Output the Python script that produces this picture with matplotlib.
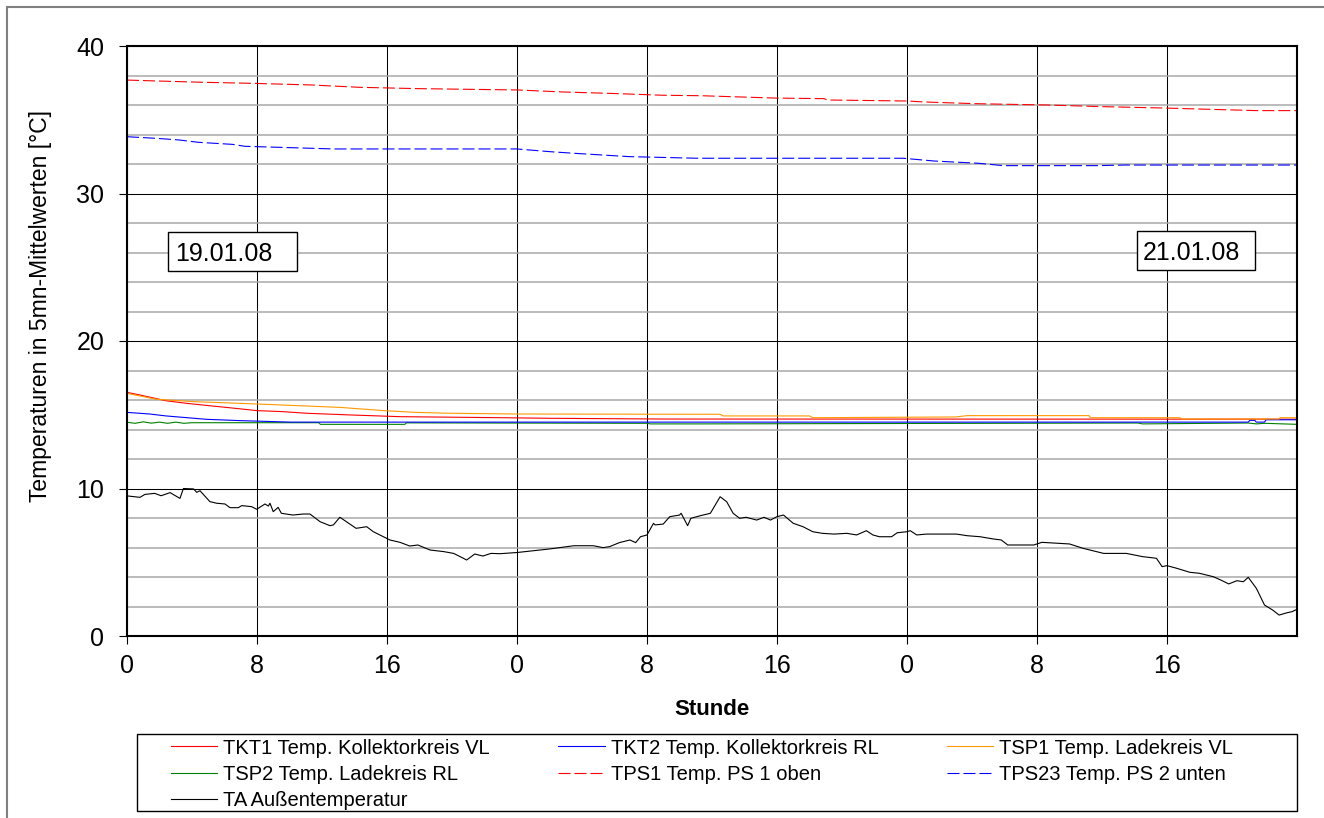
import matplotlib
matplotlib.use('Agg')
import matplotlib.pyplot as plt
from matplotlib.patches import Rectangle
from matplotlib.ticker import MultipleLocator, FixedLocator, FixedFormatter

plt.rcParams['font.family'] = ['Liberation Sans', 'DejaVu Sans']

# ---------------- data (hours since 19.01.08 00:00, temperatures in °C) ----------------
x_tick_hours = [0, 8, 16, 24, 32, 40, 48, 56, 64]
x_tick_labels = ['0', '8', '16', '0', '8', '16', '0', '8', '16']
y_ticks = [0, 10, 20, 30, 40]

tkt1_h = [0, 0.8, 2.4, 3.7, 5.1, 6.1, 8.0, 9.6, 11.05, 13.9, 16.8, 23.0, 26.0, 33.0, 72]
tkt1_v = [16.52, 16.34, 15.95, 15.77, 15.61, 15.5, 15.28, 15.21, 15.1, 14.98, 14.87, 14.8, 14.76, 14.71, 14.7]

tkt2_h = [0, 1.4, 2.4, 3.7, 4.9, 7.0, 10.1, 69.0, 69.1, 69.4, 69.5, 70.0, 70.1, 72]
tkt2_v = [15.16, 15.05, 14.92, 14.8, 14.69, 14.6, 14.5, 14.5, 14.62, 14.62, 14.5, 14.5, 14.66, 14.66]

tsp1_h = [0, 1.8, 4.1, 8.0, 13.1, 15.8, 17.8, 19.9, 24.0, 36.5, 36.7, 42.0, 42.2, 51.0, 51.7,
          59.2, 59.3, 64.8, 64.9, 70.9, 70.95, 72]
tsp1_v = [16.45, 16.05, 15.89, 15.73, 15.5, 15.28, 15.16, 15.1, 15.05, 15.03, 14.92, 14.92, 14.8, 14.85, 14.94,
          14.94, 14.8, 14.8, 14.71, 14.71, 14.8, 14.8]

tsp2_h = [0, 0.5, 1.0, 1.5, 2.0, 2.5, 3.0, 3.5, 4.0, 11.8, 11.9, 17.1, 17.2, 32.0, 32.2, 35.1,
          62.2, 62.5, 69.0, 69.5, 70.0, 72]
tsp2_v = [14.49, 14.42, 14.52, 14.43, 14.5, 14.42, 14.5, 14.42, 14.46, 14.46, 14.35, 14.35, 14.45, 14.42, 14.38, 14.38,
          14.44, 14.38, 14.44, 14.38, 14.42, 14.35]

tps1_h = [0, 1.8, 4.65, 7.7, 11.3, 14.3, 17.9, 24.0, 26.9, 29.7, 33.0, 35.3, 39.9, 42.9, 43.1, 48.0,
          49.2, 52.2, 56.6, 60.0, 63.6, 69.5, 72]
tps1_v = [37.69, 37.63, 37.54, 37.47, 37.36, 37.2, 37.11, 37.02, 36.88, 36.79, 36.66, 36.63, 36.47, 36.43, 36.34, 36.27,
          36.2, 36.09, 36.0, 35.89, 35.8, 35.62, 35.62]

tps23_h = [0, 1.8, 3.2, 4.4, 6.5, 7.25, 9.4, 12.7, 24.0, 26.1, 27.6, 30.9, 35.1, 47.75, 49.7, 52.4,
           53.9, 59.7, 61.4, 72]
tps23_v = [33.85, 33.74, 33.63, 33.47, 33.33, 33.2, 33.13, 33.02, 33.02, 32.83, 32.72, 32.5, 32.39, 32.39, 32.2, 32.05,
           31.89, 31.89, 31.93, 31.93]

ta_h = [0.0, 0.8, 1.1, 1.7, 2.1, 2.65, 3.26, 3.47, 4.1, 4.29, 4.49, 5.1, 5.52, 6.03, 6.34, 6.85, 7.06, 7.67,
        7.98, 8.49, 8.7, 8.8, 9.0, 9.3, 9.5, 10.2, 10.85, 11.26, 11.88, 12.49, 12.7, 13.1, 13.5, 14.1, 14.75,
        15.16, 15.78, 16.18, 16.8, 17.4, 17.9, 18.65, 19.5, 20.1, 20.7, 20.9, 21.4, 21.9, 22.4, 22.95, 24.0,
        25.0, 26.0, 27.5, 28.7, 29.3, 29.7, 30.3, 30.95, 31.3, 31.6, 32.0, 32.4, 32.5, 33.0, 33.4, 34.0, 34.1,
        34.5, 34.7, 35.3, 35.9, 36.2, 36.5, 36.9, 37.3, 37.7, 38.1, 38.75, 39.2, 39.6, 40.0, 40.4, 41.0, 41.6,
        42.2, 42.8, 43.5, 44.3, 44.9, 45.5, 45.9, 46.3, 47.05, 47.4, 48.0, 48.2, 48.6, 49.2, 51.05, 51.7, 52.5,
        53.3, 53.8, 54.2, 55.8, 56.3, 58.0, 58.85, 60.1, 61.5, 62.5, 63.35, 63.7, 64.0, 64.6, 65.4, 66.0,
        66.85, 67.3, 67.8, 68.3, 68.7, 69.0, 69.5, 70.0, 70.5, 70.9, 71.4, 71.7, 72.0]
ta_v = [9.5, 9.40, 9.6, 9.67, 9.51, 9.72, 9.33, 10.0, 9.97, 9.74, 9.85, 9.11, 9.0, 8.95, 8.7, 8.7, 8.84, 8.77,
        8.59, 8.95, 8.81, 9.0, 8.43, 8.72, 8.32, 8.2, 8.27, 8.27, 7.75, 7.48, 7.53, 8.05, 7.75, 7.3, 7.41,
        7.07, 6.73, 6.51, 6.35, 6.1, 6.17, 5.83, 5.72, 5.6, 5.27, 5.15, 5.56, 5.42, 5.6, 5.58, 5.66,
        5.78, 5.9, 6.12, 6.12, 5.99, 6.06, 6.33, 6.51, 6.33, 6.73, 6.85, 7.64, 7.53, 7.59, 8.09, 8.2, 8.32,
        7.48, 7.98, 8.16, 8.32, 8.88, 9.44, 9.11, 8.32, 7.98, 8.05, 7.86, 8.05, 7.86, 8.09, 8.2, 7.64, 7.41,
        7.07, 6.96, 6.91, 6.96, 6.85, 7.14, 6.85, 6.73, 6.73, 7.0, 7.07, 7.14, 6.85, 6.91, 6.91, 6.8, 6.73,
        6.58, 6.51, 6.17, 6.17, 6.35, 6.24, 5.94, 5.6, 5.6, 5.38, 5.27, 4.7, 4.77, 4.59, 4.32, 4.25,
        4.02, 3.8, 3.53, 3.75, 3.68, 3.98, 3.23, 2.1, 1.76, 1.42, 1.58, 1.65, 1.81]

labels = {
    'tkt1': 'TKT1 Temp. Kollektorkreis VL',
    'tkt2': 'TKT2 Temp. Kollektorkreis RL',
    'tsp1': 'TSP1 Temp. Ladekreis VL',
    'tsp2': 'TSP2 Temp. Ladekreis RL',
    'tps1': 'TPS1 Temp. PS 1 oben',
    'tps23': 'TPS23 Temp. PS 2 unten',
    'ta': 'TA Außentemperatur',
}
date_labels = ['19.01.08', '21.01.08']

# ---------------- figure ----------------
W, H = 1324, 818
fig = plt.figure(figsize=(W / 100, H / 100), dpi=100)


def fx(px):
    return px / W


def fy(py):
    return 1 - py / H


ax = fig.add_axes([fx(127), fy(636), fx(1297) - fx(127), fy(46) - fy(636)])

lw = 0.8
dash = (0, (10.8, 3.6))
l_tkt1, = ax.plot(tkt1_h, tkt1_v, color='#FF0000', lw=lw, label=labels['tkt1'], zorder=5)
l_tkt2, = ax.plot(tkt2_h, tkt2_v, color='#0000FF', lw=lw, label=labels['tkt2'], zorder=5)
l_tsp2, = ax.plot(tsp2_h, tsp2_v, color='#008000', lw=lw, label=labels['tsp2'], zorder=4)
l_tsp1, = ax.plot(tsp1_h, tsp1_v, color='#FF9900', lw=lw, label=labels['tsp1'], zorder=6)
l_tps1, = ax.plot(tps1_h, tps1_v, color='#FF0000', lw=lw, ls=dash, label=labels['tps1'], zorder=5)
l_tps23, = ax.plot(tps23_h, tps23_v, color='#0000FF', lw=lw, ls=dash, label=labels['tps23'], zorder=5)
l_ta, = ax.plot(ta_h, ta_v, color='#000000', lw=lw, label=labels['ta'], zorder=5)

ax.set_xlim(0, 72)
ax.set_ylim(0, 40)
ax.xaxis.set_major_locator(FixedLocator(x_tick_hours))
ax.xaxis.set_major_formatter(FixedFormatter(x_tick_labels))
ax.yaxis.set_major_locator(FixedLocator(y_ticks))
ax.yaxis.set_minor_locator(MultipleLocator(2))
ax.tick_params(axis='both', which='major', direction='out', length=5.8, width=0.8,
               labelsize=18, colors='black')
ax.tick_params(axis='y', which='major', pad=10.5)
ax.tick_params(axis='x', which='major', pad=7.5)
ax.tick_params(axis='y', which='minor', length=0)

ax.grid(True, which='minor', axis='y', color='#a8a8a8', lw=1.1, zorder=1)
ax.grid(True, which='major', axis='both', color='black', lw=0.75, zorder=2)
ax.set_axisbelow(True)
for s in ax.spines.values():
    s.set_linewidth(1.5)
    s.set_color('black')
    s.set_zorder(7)

ax.set_ylabel('Temperaturen in 5mn-Mittelwerten [°C]', fontsize=16.5)
ax.yaxis.label.set_va('center')
ax.yaxis.label.set_ha('center')
ax.yaxis.set_label_coords((41 - 127) / 1170, (636 - 306.5) / 590)
ax.set_xlabel('Stunde', fontsize=16, fontweight='bold')
ax.xaxis.label.set_va('baseline')
ax.xaxis.set_label_coords(0.5, -(715 - 636) / 590)

# date boxes
for (bx0, bx1, by0, by1, tx, ty), lab in zip([(168, 297, 232, 271, 175, 260.7),
                                             (1137, 1255, 231, 270, 1143, 259.7)], date_labels):
    ax.add_patch(Rectangle(((bx0 - 127) / 1170, (636 - by1) / 590), (bx1 - bx0) / 1170, (by1 - by0) / 590,
                           transform=ax.transAxes, facecolor='white', edgecolor='black', lw=1.0, zorder=8))
    ax.text((tx - 127) / 1170, (636 - ty) / 590, lab, transform=ax.transAxes, fontsize=18,
            ha='left', va='baseline', zorder=9)

# legend
handles = [l_tkt1, l_tsp2, l_ta, l_tkt2, l_tps1, l_tsp1, l_tps23]
leg = fig.legend(handles, [h.get_label() for h in handles], ncol=3, loc='upper left',
                 bbox_to_anchor=(fx(171), fy(738.5)), frameon=False, fontsize=14.5,
                 borderpad=0, borderaxespad=0, handlelength=2.3, handletextpad=0.3,
                 columnspacing=3.4, labelspacing=0.35)
fig.add_artist(Rectangle((fx(137), fy(811)), fx(1297) - fx(137), fy(734) - fy(811),
                         transform=fig.transFigure, facecolor='none', edgecolor='black', lw=1.0))

# outer chart frame (left and top edges visible)
fig.add_artist(Rectangle((fx(7), -0.1), 1.2, fy(7) + 0.1, transform=fig.transFigure,
                         facecolor='none', edgecolor='#808080', lw=1.5))

fig.savefig('out.png', dpi=100)
